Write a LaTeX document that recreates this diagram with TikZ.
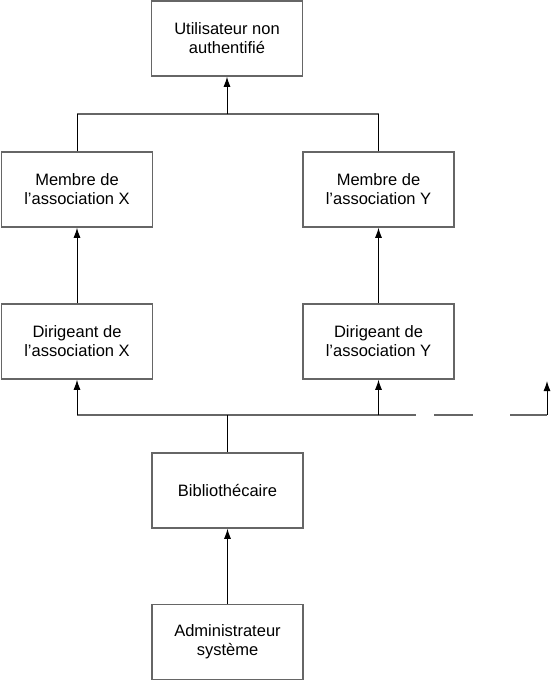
\documentclass[tikz,border=0pt]{standalone}
\usepackage{fontspec}
\setmainfont{Liberation Sans}
\usetikzlibrary{arrows.meta}

\begin{document}
\begin{tikzpicture}[
        x=1pt,y=-1pt,
        box/.style={draw=black!60,line width=1.5pt,fill=white,minimum width=151pt,minimum height=75pt,
            align=center,inner sep=0pt,font=\fontsize{16.5}{19}\selectfont},
        bus/.style={black!60,line width=1.8pt},
        line/.style={black,line width=1pt},
        arrow/.style={black,line width=1pt,-{Latex[length=10pt,width=7pt]}}
    ]
        \useasboundingbox (0,0) rectangle (553,681);

        % Define the nodes
        \node[box] (util) at (227,38.5) {Utilisateur non\\authentifié};
        \node[box] (membreX) at (77,189.5) {Membre de\\l’association X};
        \node[box] (membreY) at (378.5,189.5) {Membre de\\l’association Y};
        \node[box] (dirX) at (77,341.5) {Dirigeant de\\l’association X};
        \node[box] (dirY) at (378.5,341.5) {Dirigeant de\\l’association Y};
        \node[box] (biblio) at (227.5,490.5) {Bibliothécaire};
        \node[box] (admin) at (227.5,642) {Administrateur\\système};

        % Junction points
        \coordinate (haut) at (227,114);
        \coordinate (bas) at (227.5,415);
        \coordinate (finA) at (416,415);
        \coordinate (debB) at (434,415);
        \coordinate (finB) at (473,415);
        \coordinate (debC) at (510,415);
        \coordinate (coin) at (547,415);
        \coordinate (ext) at (547,381);

        % Upper tree
        \draw[bus] (membreX.north |- haut) -- (membreY.north |- haut);
        \draw[line] (membreX.north) -- (membreX.north |- haut);
        \draw[line] (membreY.north) -- (membreY.north |- haut);
        \draw[arrow] (haut) -- (util.south);

        % Dirigeants
        \draw[arrow] (dirX.north) -- (membreX.south);
        \draw[arrow] (dirY.north) -- (membreY.south);

        % Lower tree
        \draw[bus] (dirX.south |- bas) -- (finA);
        \draw[bus] (debB) -- (finB);
        \draw[bus] (debC) -- (coin);
        \draw[line] (biblio.north) -- (bas);
        \draw[arrow] (dirX.south |- bas) -- (dirX.south);
        \draw[arrow] (dirY.south |- bas) -- (dirY.south);
        \draw[arrow] (coin) -- (ext);
        \draw[arrow] (admin.north) -- (biblio.south);
    \end{tikzpicture}
\end{document}
